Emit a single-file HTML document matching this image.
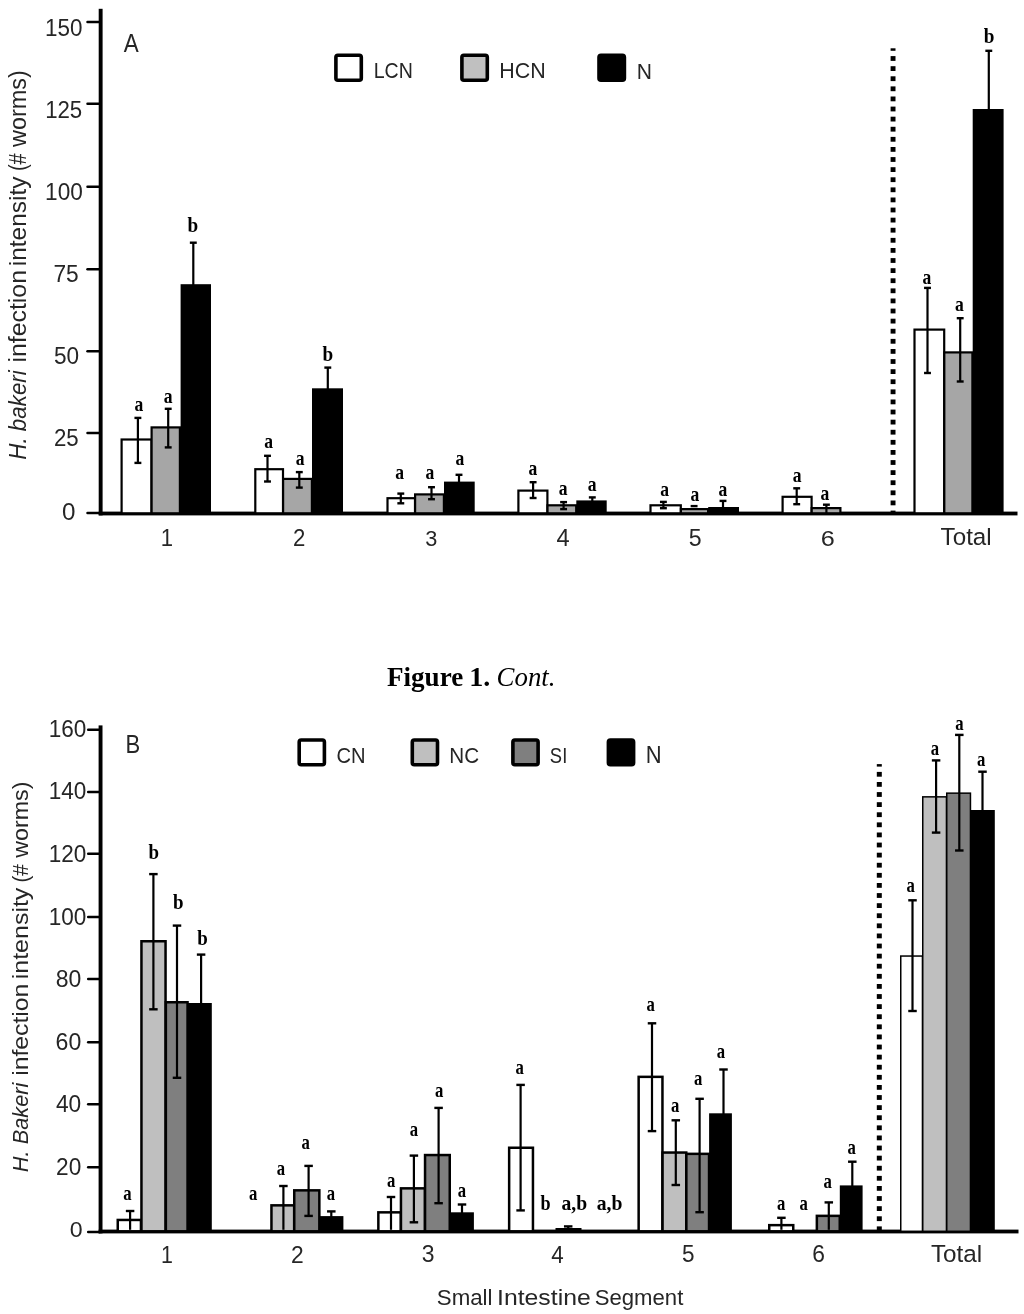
<!DOCTYPE html>
<html><head><meta charset="utf-8"><title>Figure 1 Cont.</title>
<style>html,body{margin:0;padding:0;background:#fff;}svg{display:block;filter:grayscale(100%);}</style></head>
<body><svg width="1024" height="1314" viewBox="0 0 1024 1314" shape-rendering="auto">
<rect width="1024" height="1314" fill="#fff"/>
<rect x="98.70" y="8.80" width="3.90" height="506.60" fill="#000"/>
<rect x="98.70" y="511.60" width="918.80" height="3.80" fill="#000"/>
<line x1="87.5" y1="22.00" x2="100" y2="22.00" stroke="#000" stroke-width="2.5" stroke-linecap="round"/>
<line x1="87.5" y1="103.80" x2="100" y2="103.80" stroke="#000" stroke-width="2.5" stroke-linecap="round"/>
<line x1="87.5" y1="186.80" x2="100" y2="186.80" stroke="#000" stroke-width="2.5" stroke-linecap="round"/>
<line x1="87.5" y1="269.20" x2="100" y2="269.20" stroke="#000" stroke-width="2.5" stroke-linecap="round"/>
<line x1="87.5" y1="351.20" x2="100" y2="351.20" stroke="#000" stroke-width="2.5" stroke-linecap="round"/>
<line x1="87.5" y1="433.00" x2="100" y2="433.00" stroke="#000" stroke-width="2.5" stroke-linecap="round"/>
<line x1="87.5" y1="513.00" x2="100" y2="513.00" stroke="#000" stroke-width="2.5" stroke-linecap="round"/>
<rect x="335.90" y="55.30" width="25.40" height="25.00" rx="2" fill="#fff" stroke="#000" stroke-width="3.6"/>
<rect x="461.90" y="55.30" width="25.40" height="25.00" rx="2" fill="#c0c0c0" stroke="#000" stroke-width="3.6"/>
<rect x="599.00" y="55.30" width="25.40" height="25.00" rx="2" fill="#000" stroke="#000" stroke-width="3.6"/>
<rect x="121.60" y="439.50" width="29.90" height="73.80" fill="#fff" stroke="#000" stroke-width="2.2"/>
<rect x="151.60" y="427.40" width="28.30" height="85.90" fill="#a6a6a6" stroke="#000" stroke-width="2.2"/>
<rect x="180.60" y="284.20" width="30.40" height="229.10" fill="#000"/>
<rect x="255.30" y="469.20" width="27.70" height="44.10" fill="#fff" stroke="#000" stroke-width="2.2"/>
<rect x="283.10" y="478.90" width="28.80" height="34.40" fill="#a6a6a6" stroke="#000" stroke-width="2.2"/>
<rect x="312.00" y="388.30" width="31.00" height="125.00" fill="#000"/>
<rect x="387.50" y="498.20" width="27.50" height="15.10" fill="#fff" stroke="#000" stroke-width="2.2"/>
<rect x="415.10" y="494.40" width="28.80" height="18.90" fill="#a6a6a6" stroke="#000" stroke-width="2.2"/>
<rect x="444.00" y="481.60" width="30.70" height="31.70" fill="#000"/>
<rect x="518.40" y="490.60" width="29.00" height="22.70" fill="#fff" stroke="#000" stroke-width="2.2"/>
<rect x="547.50" y="505.30" width="28.70" height="8.00" fill="#a6a6a6" stroke="#000" stroke-width="2.2"/>
<rect x="576.30" y="500.40" width="30.40" height="12.90" fill="#000"/>
<rect x="650.50" y="505.30" width="30.30" height="8.00" fill="#fff" stroke="#000" stroke-width="2.2"/>
<rect x="680.90" y="509.10" width="27.20" height="4.20" fill="#a6a6a6" stroke="#000" stroke-width="2.2"/>
<rect x="708.20" y="507.00" width="30.80" height="6.30" fill="#000"/>
<rect x="782.60" y="496.80" width="29.00" height="16.50" fill="#fff" stroke="#000" stroke-width="2.2"/>
<rect x="811.70" y="508.10" width="28.70" height="5.20" fill="#a6a6a6" stroke="#000" stroke-width="2.2"/>
<rect x="914.50" y="329.60" width="29.70" height="183.70" fill="#fff" stroke="#000" stroke-width="2.2"/>
<rect x="944.30" y="352.40" width="28.10" height="160.90" fill="#a6a6a6" stroke="#000" stroke-width="2.2"/>
<rect x="972.70" y="109.00" width="30.90" height="404.30" fill="#000"/>
<line x1="137.90" y1="417.90" x2="137.90" y2="462.90" stroke="#000" stroke-width="2.2"/>
<line x1="134.45" y1="417.90" x2="141.35" y2="417.90" stroke="#000" stroke-width="2.4"/>
<line x1="134.45" y1="462.90" x2="141.35" y2="462.90" stroke="#000" stroke-width="2.4"/>
<line x1="168.20" y1="408.80" x2="168.20" y2="447.40" stroke="#000" stroke-width="2.2"/>
<line x1="164.75" y1="408.80" x2="171.65" y2="408.80" stroke="#000" stroke-width="2.4"/>
<line x1="164.75" y1="447.40" x2="171.65" y2="447.40" stroke="#000" stroke-width="2.4"/>
<line x1="193.30" y1="242.70" x2="193.30" y2="513.30" stroke="#000" stroke-width="2.2"/>
<line x1="189.85" y1="242.70" x2="196.75" y2="242.70" stroke="#000" stroke-width="2.4"/>
<line x1="267.50" y1="455.80" x2="267.50" y2="481.50" stroke="#000" stroke-width="2.2"/>
<line x1="264.05" y1="455.80" x2="270.95" y2="455.80" stroke="#000" stroke-width="2.4"/>
<line x1="264.05" y1="481.50" x2="270.95" y2="481.50" stroke="#000" stroke-width="2.4"/>
<line x1="299.30" y1="472.10" x2="299.30" y2="487.60" stroke="#000" stroke-width="2.2"/>
<line x1="295.85" y1="472.10" x2="302.75" y2="472.10" stroke="#000" stroke-width="2.4"/>
<line x1="295.85" y1="487.60" x2="302.75" y2="487.60" stroke="#000" stroke-width="2.4"/>
<line x1="327.80" y1="367.60" x2="327.80" y2="513.30" stroke="#000" stroke-width="2.2"/>
<line x1="324.35" y1="367.60" x2="331.25" y2="367.60" stroke="#000" stroke-width="2.4"/>
<line x1="400.80" y1="493.60" x2="400.80" y2="503.30" stroke="#000" stroke-width="2.2"/>
<line x1="397.35" y1="493.60" x2="404.25" y2="493.60" stroke="#000" stroke-width="2.4"/>
<line x1="397.35" y1="503.30" x2="404.25" y2="503.30" stroke="#000" stroke-width="2.4"/>
<line x1="431.50" y1="487.20" x2="431.50" y2="499.20" stroke="#000" stroke-width="2.2"/>
<line x1="428.05" y1="487.20" x2="434.95" y2="487.20" stroke="#000" stroke-width="2.4"/>
<line x1="428.05" y1="499.20" x2="434.95" y2="499.20" stroke="#000" stroke-width="2.4"/>
<line x1="459.00" y1="474.80" x2="459.00" y2="513.30" stroke="#000" stroke-width="2.2"/>
<line x1="455.55" y1="474.80" x2="462.45" y2="474.80" stroke="#000" stroke-width="2.4"/>
<line x1="533.10" y1="482.20" x2="533.10" y2="498.00" stroke="#000" stroke-width="2.2"/>
<line x1="529.65" y1="482.20" x2="536.55" y2="482.20" stroke="#000" stroke-width="2.4"/>
<line x1="529.65" y1="498.00" x2="536.55" y2="498.00" stroke="#000" stroke-width="2.4"/>
<line x1="563.60" y1="502.10" x2="563.60" y2="509.10" stroke="#000" stroke-width="2.2"/>
<line x1="560.15" y1="502.10" x2="567.05" y2="502.10" stroke="#000" stroke-width="2.4"/>
<line x1="560.15" y1="509.10" x2="567.05" y2="509.10" stroke="#000" stroke-width="2.4"/>
<line x1="592.30" y1="497.40" x2="592.30" y2="513.30" stroke="#000" stroke-width="2.2"/>
<line x1="588.85" y1="497.40" x2="595.75" y2="497.40" stroke="#000" stroke-width="2.4"/>
<line x1="663.40" y1="501.90" x2="663.40" y2="508.20" stroke="#000" stroke-width="2.2"/>
<line x1="659.95" y1="501.90" x2="666.85" y2="501.90" stroke="#000" stroke-width="2.4"/>
<line x1="659.95" y1="508.20" x2="666.85" y2="508.20" stroke="#000" stroke-width="2.4"/>
<line x1="690.65" y1="506.10" x2="697.55" y2="506.10" stroke="#000" stroke-width="2.4"/>
<line x1="723.00" y1="500.90" x2="723.00" y2="513.30" stroke="#000" stroke-width="2.2"/>
<line x1="719.55" y1="500.90" x2="726.45" y2="500.90" stroke="#000" stroke-width="2.4"/>
<line x1="796.70" y1="488.30" x2="796.70" y2="504.20" stroke="#000" stroke-width="2.2"/>
<line x1="793.25" y1="488.30" x2="800.15" y2="488.30" stroke="#000" stroke-width="2.4"/>
<line x1="793.25" y1="504.20" x2="800.15" y2="504.20" stroke="#000" stroke-width="2.4"/>
<line x1="826.40" y1="504.70" x2="826.40" y2="513.30" stroke="#000" stroke-width="2.2"/>
<line x1="822.95" y1="504.70" x2="829.85" y2="504.70" stroke="#000" stroke-width="2.4"/>
<line x1="927.50" y1="287.90" x2="927.50" y2="373.00" stroke="#000" stroke-width="2.2"/>
<line x1="924.05" y1="287.90" x2="930.95" y2="287.90" stroke="#000" stroke-width="2.4"/>
<line x1="924.05" y1="373.00" x2="930.95" y2="373.00" stroke="#000" stroke-width="2.4"/>
<line x1="960.20" y1="318.20" x2="960.20" y2="381.50" stroke="#000" stroke-width="2.2"/>
<line x1="956.75" y1="318.20" x2="963.65" y2="318.20" stroke="#000" stroke-width="2.4"/>
<line x1="956.75" y1="381.50" x2="963.65" y2="381.50" stroke="#000" stroke-width="2.4"/>
<line x1="988.80" y1="50.80" x2="988.80" y2="513.30" stroke="#000" stroke-width="2.2"/>
<line x1="985.35" y1="50.80" x2="992.25" y2="50.80" stroke="#000" stroke-width="2.4"/>
<rect x="890.60" y="48.30" width="4.90" height="2.50" fill="#000"/>
<rect x="890.60" y="56.10" width="4.90" height="4.80" fill="#000"/>
<rect x="890.60" y="66.20" width="4.90" height="4.80" fill="#000"/>
<rect x="890.60" y="76.30" width="4.90" height="4.80" fill="#000"/>
<rect x="890.60" y="86.40" width="4.90" height="4.80" fill="#000"/>
<rect x="890.60" y="96.50" width="4.90" height="4.80" fill="#000"/>
<rect x="890.60" y="106.60" width="4.90" height="4.80" fill="#000"/>
<rect x="890.60" y="116.70" width="4.90" height="4.80" fill="#000"/>
<rect x="890.60" y="126.80" width="4.90" height="4.80" fill="#000"/>
<rect x="890.60" y="136.90" width="4.90" height="4.80" fill="#000"/>
<rect x="890.60" y="147.00" width="4.90" height="4.80" fill="#000"/>
<rect x="890.60" y="157.10" width="4.90" height="4.80" fill="#000"/>
<rect x="890.60" y="167.20" width="4.90" height="4.80" fill="#000"/>
<rect x="890.60" y="177.30" width="4.90" height="4.80" fill="#000"/>
<rect x="890.60" y="187.40" width="4.90" height="4.80" fill="#000"/>
<rect x="890.60" y="197.50" width="4.90" height="4.80" fill="#000"/>
<rect x="890.60" y="207.60" width="4.90" height="4.80" fill="#000"/>
<rect x="890.60" y="217.70" width="4.90" height="4.80" fill="#000"/>
<rect x="890.60" y="227.80" width="4.90" height="4.80" fill="#000"/>
<rect x="890.60" y="237.90" width="4.90" height="4.80" fill="#000"/>
<rect x="890.60" y="248.00" width="4.90" height="4.80" fill="#000"/>
<rect x="890.60" y="258.10" width="4.90" height="4.80" fill="#000"/>
<rect x="890.60" y="268.20" width="4.90" height="4.80" fill="#000"/>
<rect x="890.60" y="278.30" width="4.90" height="4.80" fill="#000"/>
<rect x="890.60" y="288.40" width="4.90" height="4.80" fill="#000"/>
<rect x="890.60" y="298.50" width="4.90" height="4.80" fill="#000"/>
<rect x="890.60" y="308.60" width="4.90" height="4.80" fill="#000"/>
<rect x="890.60" y="318.70" width="4.90" height="4.80" fill="#000"/>
<rect x="890.60" y="328.80" width="4.90" height="4.80" fill="#000"/>
<rect x="890.60" y="338.90" width="4.90" height="4.80" fill="#000"/>
<rect x="890.60" y="349.00" width="4.90" height="4.80" fill="#000"/>
<rect x="890.60" y="359.10" width="4.90" height="4.80" fill="#000"/>
<rect x="890.60" y="369.20" width="4.90" height="4.80" fill="#000"/>
<rect x="890.60" y="379.30" width="4.90" height="4.80" fill="#000"/>
<rect x="890.60" y="389.40" width="4.90" height="4.80" fill="#000"/>
<rect x="890.60" y="399.50" width="4.90" height="4.80" fill="#000"/>
<rect x="890.60" y="409.60" width="4.90" height="4.80" fill="#000"/>
<rect x="890.60" y="419.70" width="4.90" height="4.80" fill="#000"/>
<rect x="890.60" y="429.80" width="4.90" height="4.80" fill="#000"/>
<rect x="890.60" y="439.90" width="4.90" height="4.80" fill="#000"/>
<rect x="890.60" y="450.00" width="4.90" height="4.80" fill="#000"/>
<rect x="890.60" y="460.10" width="4.90" height="4.80" fill="#000"/>
<rect x="890.60" y="470.20" width="4.90" height="4.80" fill="#000"/>
<rect x="890.60" y="480.30" width="4.90" height="4.80" fill="#000"/>
<rect x="890.60" y="490.40" width="4.90" height="4.80" fill="#000"/>
<rect x="890.60" y="500.50" width="4.90" height="4.80" fill="#000"/>
<rect x="890.60" y="510.60" width="4.90" height="1.90" fill="#000"/>
<rect x="98.60" y="725.40" width="3.90" height="508.00" fill="#000"/>
<rect x="98.60" y="1229.60" width="919.90" height="3.80" fill="#000"/>
<line x1="88.2" y1="729.80" x2="100" y2="729.80" stroke="#000" stroke-width="2.5" stroke-linecap="round"/>
<line x1="88.2" y1="792.10" x2="100" y2="792.10" stroke="#000" stroke-width="2.5" stroke-linecap="round"/>
<line x1="88.2" y1="853.70" x2="100" y2="853.70" stroke="#000" stroke-width="2.5" stroke-linecap="round"/>
<line x1="88.2" y1="917.00" x2="100" y2="917.00" stroke="#000" stroke-width="2.5" stroke-linecap="round"/>
<line x1="88.2" y1="979.00" x2="100" y2="979.00" stroke="#000" stroke-width="2.5" stroke-linecap="round"/>
<line x1="88.2" y1="1042.30" x2="100" y2="1042.30" stroke="#000" stroke-width="2.5" stroke-linecap="round"/>
<line x1="88.2" y1="1104.20" x2="100" y2="1104.20" stroke="#000" stroke-width="2.5" stroke-linecap="round"/>
<line x1="88.2" y1="1167.30" x2="100" y2="1167.30" stroke="#000" stroke-width="2.5" stroke-linecap="round"/>
<line x1="88.2" y1="1231.90" x2="100" y2="1231.90" stroke="#000" stroke-width="2.5" stroke-linecap="round"/>
<rect x="299.20" y="740.00" width="25.20" height="24.70" rx="2" fill="#fff" stroke="#000" stroke-width="3.6"/>
<rect x="412.30" y="740.00" width="25.20" height="24.70" rx="2" fill="#bfbfbf" stroke="#000" stroke-width="3.6"/>
<rect x="512.90" y="740.00" width="25.20" height="24.70" rx="2" fill="#7f7f7f" stroke="#000" stroke-width="3.6"/>
<rect x="608.40" y="740.00" width="25.20" height="24.70" rx="2" fill="#000" stroke="#000" stroke-width="3.6"/>
<rect x="117.75" y="1219.95" width="23.20" height="11.35" fill="#fff" stroke="#000" stroke-width="2.5"/>
<rect x="141.45" y="941.25" width="24.10" height="290.05" fill="#bfbfbf" stroke="#000" stroke-width="2.5"/>
<rect x="165.85" y="1002.25" width="21.70" height="229.05" fill="#7f7f7f" stroke="#000" stroke-width="2.5"/>
<rect x="187.50" y="1003.00" width="24.30" height="228.30" fill="#000"/>
<rect x="271.45" y="1205.35" width="22.70" height="25.95" fill="#bfbfbf" stroke="#000" stroke-width="2.5"/>
<rect x="294.25" y="1190.35" width="25.10" height="40.95" fill="#7f7f7f" stroke="#000" stroke-width="2.5"/>
<rect x="319.40" y="1216.10" width="24.00" height="15.20" fill="#000"/>
<rect x="378.35" y="1212.35" width="22.50" height="18.95" fill="#fff" stroke="#000" stroke-width="2.5"/>
<rect x="400.95" y="1188.35" width="24.00" height="42.95" fill="#bfbfbf" stroke="#000" stroke-width="2.5"/>
<rect x="425.05" y="1155.05" width="24.70" height="76.25" fill="#7f7f7f" stroke="#000" stroke-width="2.5"/>
<rect x="449.90" y="1212.30" width="24.00" height="19.00" fill="#000"/>
<rect x="509.15" y="1147.75" width="23.80" height="83.55" fill="#fff" stroke="#000" stroke-width="2.5"/>
<rect x="556.75" y="1229.25" width="23.50" height="2.05" fill="#7f7f7f" stroke="#000" stroke-width="2.5"/>
<rect x="638.65" y="1076.85" width="23.80" height="154.45" fill="#fff" stroke="#000" stroke-width="2.5"/>
<rect x="662.55" y="1152.55" width="23.70" height="78.75" fill="#bfbfbf" stroke="#000" stroke-width="2.5"/>
<rect x="686.35" y="1153.85" width="22.70" height="77.45" fill="#7f7f7f" stroke="#000" stroke-width="2.5"/>
<rect x="709.10" y="1113.30" width="22.80" height="118.00" fill="#000"/>
<rect x="769.25" y="1225.15" width="24.00" height="6.15" fill="#fff" stroke="#000" stroke-width="2.5"/>
<rect x="816.85" y="1215.85" width="22.90" height="15.45" fill="#7f7f7f" stroke="#000" stroke-width="2.5"/>
<rect x="839.80" y="1185.40" width="22.80" height="45.90" fill="#000"/>
<rect x="900.75" y="956.05" width="21.70" height="275.25" fill="#fff" stroke="#000" stroke-width="1.5"/>
<rect x="922.75" y="796.85" width="23.70" height="434.45" fill="#bfbfbf" stroke="#000" stroke-width="1.5"/>
<rect x="946.75" y="793.15" width="23.70" height="438.15" fill="#7f7f7f" stroke="#000" stroke-width="1.5"/>
<rect x="970.50" y="810.00" width="24.30" height="421.30" fill="#000"/>
<line x1="130.10" y1="1211.00" x2="130.10" y2="1229.80" stroke="#000" stroke-width="2.2"/>
<line x1="125.85" y1="1211.00" x2="134.35" y2="1211.00" stroke="#000" stroke-width="2.4"/>
<line x1="153.40" y1="874.10" x2="153.40" y2="1009.30" stroke="#000" stroke-width="2.2"/>
<line x1="149.15" y1="874.10" x2="157.65" y2="874.10" stroke="#000" stroke-width="2.4"/>
<line x1="149.15" y1="1009.30" x2="157.65" y2="1009.30" stroke="#000" stroke-width="2.4"/>
<line x1="177.00" y1="925.60" x2="177.00" y2="1077.80" stroke="#000" stroke-width="2.2"/>
<line x1="172.75" y1="925.60" x2="181.25" y2="925.60" stroke="#000" stroke-width="2.4"/>
<line x1="172.75" y1="1077.80" x2="181.25" y2="1077.80" stroke="#000" stroke-width="2.4"/>
<line x1="201.10" y1="954.60" x2="201.10" y2="1229.80" stroke="#000" stroke-width="2.2"/>
<line x1="196.85" y1="954.60" x2="205.35" y2="954.60" stroke="#000" stroke-width="2.4"/>
<line x1="283.40" y1="1186.00" x2="283.40" y2="1229.80" stroke="#000" stroke-width="2.2"/>
<line x1="279.15" y1="1186.00" x2="287.65" y2="1186.00" stroke="#000" stroke-width="2.4"/>
<line x1="308.60" y1="1165.90" x2="308.60" y2="1215.90" stroke="#000" stroke-width="2.2"/>
<line x1="304.35" y1="1165.90" x2="312.85" y2="1165.90" stroke="#000" stroke-width="2.4"/>
<line x1="304.35" y1="1215.90" x2="312.85" y2="1215.90" stroke="#000" stroke-width="2.4"/>
<line x1="331.30" y1="1211.40" x2="331.30" y2="1229.80" stroke="#000" stroke-width="2.2"/>
<line x1="327.05" y1="1211.40" x2="335.55" y2="1211.40" stroke="#000" stroke-width="2.4"/>
<line x1="391.00" y1="1197.00" x2="391.00" y2="1229.80" stroke="#000" stroke-width="2.2"/>
<line x1="386.75" y1="1197.00" x2="395.25" y2="1197.00" stroke="#000" stroke-width="2.4"/>
<line x1="413.90" y1="1155.60" x2="413.90" y2="1222.30" stroke="#000" stroke-width="2.2"/>
<line x1="409.65" y1="1155.60" x2="418.15" y2="1155.60" stroke="#000" stroke-width="2.4"/>
<line x1="409.65" y1="1222.30" x2="418.15" y2="1222.30" stroke="#000" stroke-width="2.4"/>
<line x1="438.60" y1="1107.90" x2="438.60" y2="1203.20" stroke="#000" stroke-width="2.2"/>
<line x1="434.35" y1="1107.90" x2="442.85" y2="1107.90" stroke="#000" stroke-width="2.4"/>
<line x1="434.35" y1="1203.20" x2="442.85" y2="1203.20" stroke="#000" stroke-width="2.4"/>
<line x1="462.00" y1="1204.50" x2="462.00" y2="1229.80" stroke="#000" stroke-width="2.2"/>
<line x1="457.75" y1="1204.50" x2="466.25" y2="1204.50" stroke="#000" stroke-width="2.4"/>
<line x1="520.60" y1="1084.90" x2="520.60" y2="1210.40" stroke="#000" stroke-width="2.2"/>
<line x1="516.35" y1="1084.90" x2="524.85" y2="1084.90" stroke="#000" stroke-width="2.4"/>
<line x1="516.35" y1="1210.40" x2="524.85" y2="1210.40" stroke="#000" stroke-width="2.4"/>
<line x1="568.20" y1="1226.40" x2="568.20" y2="1229.80" stroke="#000" stroke-width="2.2"/>
<line x1="563.95" y1="1226.40" x2="572.45" y2="1226.40" stroke="#000" stroke-width="2.4"/>
<line x1="652.00" y1="1023.30" x2="652.00" y2="1131.10" stroke="#000" stroke-width="2.2"/>
<line x1="647.75" y1="1023.30" x2="656.25" y2="1023.30" stroke="#000" stroke-width="2.4"/>
<line x1="647.75" y1="1131.10" x2="656.25" y2="1131.10" stroke="#000" stroke-width="2.4"/>
<line x1="675.80" y1="1120.30" x2="675.80" y2="1185.00" stroke="#000" stroke-width="2.2"/>
<line x1="671.55" y1="1120.30" x2="680.05" y2="1120.30" stroke="#000" stroke-width="2.4"/>
<line x1="671.55" y1="1185.00" x2="680.05" y2="1185.00" stroke="#000" stroke-width="2.4"/>
<line x1="699.60" y1="1098.80" x2="699.60" y2="1212.20" stroke="#000" stroke-width="2.2"/>
<line x1="695.35" y1="1098.80" x2="703.85" y2="1098.80" stroke="#000" stroke-width="2.4"/>
<line x1="695.35" y1="1212.20" x2="703.85" y2="1212.20" stroke="#000" stroke-width="2.4"/>
<line x1="723.50" y1="1069.50" x2="723.50" y2="1229.80" stroke="#000" stroke-width="2.2"/>
<line x1="719.25" y1="1069.50" x2="727.75" y2="1069.50" stroke="#000" stroke-width="2.4"/>
<line x1="781.40" y1="1217.80" x2="781.40" y2="1229.80" stroke="#000" stroke-width="2.2"/>
<line x1="777.15" y1="1217.80" x2="785.65" y2="1217.80" stroke="#000" stroke-width="2.4"/>
<line x1="828.80" y1="1202.40" x2="828.80" y2="1229.80" stroke="#000" stroke-width="2.2"/>
<line x1="824.55" y1="1202.40" x2="833.05" y2="1202.40" stroke="#000" stroke-width="2.4"/>
<line x1="852.30" y1="1161.70" x2="852.30" y2="1229.80" stroke="#000" stroke-width="2.2"/>
<line x1="848.05" y1="1161.70" x2="856.55" y2="1161.70" stroke="#000" stroke-width="2.4"/>
<line x1="912.50" y1="900.30" x2="912.50" y2="1011.00" stroke="#000" stroke-width="2.2"/>
<line x1="908.25" y1="900.30" x2="916.75" y2="900.30" stroke="#000" stroke-width="2.4"/>
<line x1="908.25" y1="1011.00" x2="916.75" y2="1011.00" stroke="#000" stroke-width="2.4"/>
<line x1="936.10" y1="760.40" x2="936.10" y2="832.60" stroke="#000" stroke-width="2.2"/>
<line x1="931.85" y1="760.40" x2="940.35" y2="760.40" stroke="#000" stroke-width="2.4"/>
<line x1="931.85" y1="832.60" x2="940.35" y2="832.60" stroke="#000" stroke-width="2.4"/>
<line x1="959.30" y1="734.90" x2="959.30" y2="850.50" stroke="#000" stroke-width="2.2"/>
<line x1="955.05" y1="734.90" x2="963.55" y2="734.90" stroke="#000" stroke-width="2.4"/>
<line x1="955.05" y1="850.50" x2="963.55" y2="850.50" stroke="#000" stroke-width="2.4"/>
<line x1="982.50" y1="771.70" x2="982.50" y2="1229.80" stroke="#000" stroke-width="2.2"/>
<line x1="978.25" y1="771.70" x2="986.75" y2="771.70" stroke="#000" stroke-width="2.4"/>
<rect x="876.80" y="764.10" width="5.00" height="2.50" fill="#000"/>
<rect x="876.80" y="771.90" width="5.00" height="4.80" fill="#000"/>
<rect x="876.80" y="782.00" width="5.00" height="4.80" fill="#000"/>
<rect x="876.80" y="792.10" width="5.00" height="4.80" fill="#000"/>
<rect x="876.80" y="802.20" width="5.00" height="4.80" fill="#000"/>
<rect x="876.80" y="812.30" width="5.00" height="4.80" fill="#000"/>
<rect x="876.80" y="822.40" width="5.00" height="4.80" fill="#000"/>
<rect x="876.80" y="832.50" width="5.00" height="4.80" fill="#000"/>
<rect x="876.80" y="842.60" width="5.00" height="4.80" fill="#000"/>
<rect x="876.80" y="852.70" width="5.00" height="4.80" fill="#000"/>
<rect x="876.80" y="862.80" width="5.00" height="4.80" fill="#000"/>
<rect x="876.80" y="872.90" width="5.00" height="4.80" fill="#000"/>
<rect x="876.80" y="883.00" width="5.00" height="4.80" fill="#000"/>
<rect x="876.80" y="893.10" width="5.00" height="4.80" fill="#000"/>
<rect x="876.80" y="903.20" width="5.00" height="4.80" fill="#000"/>
<rect x="876.80" y="913.30" width="5.00" height="4.80" fill="#000"/>
<rect x="876.80" y="923.40" width="5.00" height="4.80" fill="#000"/>
<rect x="876.80" y="933.50" width="5.00" height="4.80" fill="#000"/>
<rect x="876.80" y="943.60" width="5.00" height="4.80" fill="#000"/>
<rect x="876.80" y="953.70" width="5.00" height="4.80" fill="#000"/>
<rect x="876.80" y="963.80" width="5.00" height="4.80" fill="#000"/>
<rect x="876.80" y="973.90" width="5.00" height="4.80" fill="#000"/>
<rect x="876.80" y="984.00" width="5.00" height="4.80" fill="#000"/>
<rect x="876.80" y="994.10" width="5.00" height="4.80" fill="#000"/>
<rect x="876.80" y="1004.20" width="5.00" height="4.80" fill="#000"/>
<rect x="876.80" y="1014.30" width="5.00" height="4.80" fill="#000"/>
<rect x="876.80" y="1024.40" width="5.00" height="4.80" fill="#000"/>
<rect x="876.80" y="1034.50" width="5.00" height="4.80" fill="#000"/>
<rect x="876.80" y="1044.60" width="5.00" height="4.80" fill="#000"/>
<rect x="876.80" y="1054.70" width="5.00" height="4.80" fill="#000"/>
<rect x="876.80" y="1064.80" width="5.00" height="4.80" fill="#000"/>
<rect x="876.80" y="1074.90" width="5.00" height="4.80" fill="#000"/>
<rect x="876.80" y="1085.00" width="5.00" height="4.80" fill="#000"/>
<rect x="876.80" y="1095.10" width="5.00" height="4.80" fill="#000"/>
<rect x="876.80" y="1105.20" width="5.00" height="4.80" fill="#000"/>
<rect x="876.80" y="1115.30" width="5.00" height="4.80" fill="#000"/>
<rect x="876.80" y="1125.40" width="5.00" height="4.80" fill="#000"/>
<rect x="876.80" y="1135.50" width="5.00" height="4.80" fill="#000"/>
<rect x="876.80" y="1145.60" width="5.00" height="4.80" fill="#000"/>
<rect x="876.80" y="1155.70" width="5.00" height="4.80" fill="#000"/>
<rect x="876.80" y="1165.80" width="5.00" height="4.80" fill="#000"/>
<rect x="876.80" y="1175.90" width="5.00" height="4.80" fill="#000"/>
<rect x="876.80" y="1186.00" width="5.00" height="4.80" fill="#000"/>
<rect x="876.80" y="1196.10" width="5.00" height="4.80" fill="#000"/>
<rect x="876.80" y="1206.20" width="5.00" height="4.80" fill="#000"/>
<rect x="876.80" y="1216.30" width="5.00" height="4.80" fill="#000"/>
<rect x="876.80" y="1226.40" width="5.00" height="4.60" fill="#000"/>
<text transform="matrix(0.95994,0,0,1,45.117,35.666)" font-family="Liberation Sans" font-size="23.380" font-weight="normal" font-style="normal" fill="#262626" style="white-space:pre">150</text>
<text transform="matrix(0.94630,0,0,1,45.131,117.765)" font-family="Liberation Sans" font-size="23.521" font-weight="normal" font-style="normal" fill="#262626" style="white-space:pre">125</text>
<text transform="matrix(0.96240,0,0,1,45.102,199.765)" font-family="Liberation Sans" font-size="23.521" font-weight="normal" font-style="normal" fill="#262626" style="white-space:pre">100</text>
<text transform="matrix(0.97083,0,0,1,53.463,281.766)" font-family="Liberation Sans" font-size="23.429" font-weight="normal" font-style="normal" fill="#262626" style="white-space:pre">75</text>
<text transform="matrix(0.97879,0,0,1,53.996,363.769)" font-family="Liberation Sans" font-size="23.099" font-weight="normal" font-style="normal" fill="#262626" style="white-space:pre">50</text>
<text transform="matrix(0.96347,0,0,1,53.987,445.769)" font-family="Liberation Sans" font-size="23.099" font-weight="normal" font-style="normal" fill="#262626" style="white-space:pre">25</text>
<text transform="matrix(1.03551,0,0,1,61.932,520.466)" font-family="Liberation Sans" font-size="23.380" font-weight="normal" font-style="normal" fill="#262626" style="white-space:pre">0</text>
<text transform="matrix(0.87276,0,0,1,123.788,51.900)" font-family="Liberation Sans" font-size="25.693" font-weight="normal" font-style="normal" fill="#262626" style="white-space:pre">A</text>
<text transform="matrix(0.85749,0,0,1,373.735,78.372)" font-family="Liberation Sans" font-size="22.817" font-weight="normal" font-style="normal" fill="#262626" style="white-space:pre">LCN</text>
<text transform="matrix(0.94577,0,0,1,499.184,78.473)" font-family="Liberation Sans" font-size="22.676" font-weight="normal" font-style="normal" fill="#262626" style="white-space:pre">HCN</text>
<text transform="matrix(0.92021,0,0,1,636.714,78.600)" font-family="Liberation Sans" font-size="22.899" font-weight="normal" font-style="normal" fill="#262626" style="white-space:pre">N</text>
<text transform="matrix(0.82000,0,0,1,134.466,410.743)" font-family="Liberation Serif" font-size="21.474" font-weight="bold" font-style="normal" fill="#000" style="white-space:pre">a</text>
<text transform="matrix(0.82000,0,0,1,163.666,402.643)" font-family="Liberation Serif" font-size="21.474" font-weight="bold" font-style="normal" fill="#000" style="white-space:pre">a</text>
<text transform="matrix(0.89000,0,0,1,187.412,232.234)" font-family="Liberation Serif" font-size="21.571" font-weight="bold" font-style="normal" fill="#000" style="white-space:pre">b</text>
<text transform="matrix(0.82000,0,0,1,264.266,448.393)" font-family="Liberation Serif" font-size="21.474" font-weight="bold" font-style="normal" fill="#000" style="white-space:pre">a</text>
<text transform="matrix(0.82000,0,0,1,295.666,464.743)" font-family="Liberation Serif" font-size="21.474" font-weight="bold" font-style="normal" fill="#000" style="white-space:pre">a</text>
<text transform="matrix(0.89000,0,0,1,322.412,361.084)" font-family="Liberation Serif" font-size="21.571" font-weight="bold" font-style="normal" fill="#000" style="white-space:pre">b</text>
<text transform="matrix(0.82000,0,0,1,395.366,478.543)" font-family="Liberation Serif" font-size="21.474" font-weight="bold" font-style="normal" fill="#000" style="white-space:pre">a</text>
<text transform="matrix(0.82000,0,0,1,425.466,478.543)" font-family="Liberation Serif" font-size="21.474" font-weight="bold" font-style="normal" fill="#000" style="white-space:pre">a</text>
<text transform="matrix(0.82000,0,0,1,455.466,464.793)" font-family="Liberation Serif" font-size="21.474" font-weight="bold" font-style="normal" fill="#000" style="white-space:pre">a</text>
<text transform="matrix(0.82000,0,0,1,528.566,474.793)" font-family="Liberation Serif" font-size="21.474" font-weight="bold" font-style="normal" fill="#000" style="white-space:pre">a</text>
<text transform="matrix(0.82000,0,0,1,558.666,494.943)" font-family="Liberation Serif" font-size="21.474" font-weight="bold" font-style="normal" fill="#000" style="white-space:pre">a</text>
<text transform="matrix(0.82000,0,0,1,587.766,491.393)" font-family="Liberation Serif" font-size="21.474" font-weight="bold" font-style="normal" fill="#000" style="white-space:pre">a</text>
<text transform="matrix(0.82000,0,0,1,660.266,496.143)" font-family="Liberation Serif" font-size="21.474" font-weight="bold" font-style="normal" fill="#000" style="white-space:pre">a</text>
<text transform="matrix(0.82000,0,0,1,690.566,501.393)" font-family="Liberation Serif" font-size="21.474" font-weight="bold" font-style="normal" fill="#000" style="white-space:pre">a</text>
<text transform="matrix(0.82000,0,0,1,718.466,496.143)" font-family="Liberation Serif" font-size="21.474" font-weight="bold" font-style="normal" fill="#000" style="white-space:pre">a</text>
<text transform="matrix(0.82000,0,0,1,792.666,482.493)" font-family="Liberation Serif" font-size="21.474" font-weight="bold" font-style="normal" fill="#000" style="white-space:pre">a</text>
<text transform="matrix(0.82000,0,0,1,820.566,499.993)" font-family="Liberation Serif" font-size="21.474" font-weight="bold" font-style="normal" fill="#000" style="white-space:pre">a</text>
<text transform="matrix(0.82000,0,0,1,922.466,284.093)" font-family="Liberation Serif" font-size="21.474" font-weight="bold" font-style="normal" fill="#000" style="white-space:pre">a</text>
<text transform="matrix(0.82000,0,0,1,954.966,310.893)" font-family="Liberation Serif" font-size="21.474" font-weight="bold" font-style="normal" fill="#000" style="white-space:pre">a</text>
<text transform="matrix(0.89000,0,0,1,983.712,43.134)" font-family="Liberation Serif" font-size="21.571" font-weight="bold" font-style="normal" fill="#000" style="white-space:pre">b</text>
<text transform="matrix(0.93523,0,0,1,160.843,545.900)" font-family="Liberation Sans" font-size="23.623" font-weight="normal" font-style="normal" fill="#262626" style="white-space:pre">1</text>
<text transform="matrix(0.95328,0,0,1,292.990,545.900)" font-family="Liberation Sans" font-size="23.286" font-weight="normal" font-style="normal" fill="#262626" style="white-space:pre">2</text>
<text transform="matrix(0.94531,0,0,1,425.132,545.670)" font-family="Liberation Sans" font-size="22.958" font-weight="normal" font-style="normal" fill="#262626" style="white-space:pre">3</text>
<text transform="matrix(0.99902,0,0,1,556.410,545.900)" font-family="Liberation Sans" font-size="23.623" font-weight="normal" font-style="normal" fill="#262626" style="white-space:pre">4</text>
<text transform="matrix(0.99451,0,0,1,688.874,545.667)" font-family="Liberation Sans" font-size="23.286" font-weight="normal" font-style="normal" fill="#262626" style="white-space:pre">5</text>
<text transform="matrix(1.09843,0,0,1,820.839,545.670)" font-family="Liberation Sans" font-size="22.958" font-weight="normal" font-style="normal" fill="#262626" style="white-space:pre">6</text>
<text transform="matrix(1.04664,0,0,1,940.595,545.469)" font-family="Liberation Sans" font-size="23.129" font-weight="normal" font-style="normal" fill="#262626" style="white-space:pre">Total</text>
<text transform="matrix(0,-0.95906,1,0,25.800,459.771)" font-family="Liberation Sans" font-size="23.333" fill="#262626" style="white-space:pre"><tspan font-style="italic">H. bakeri</tspan></text>
<text transform="matrix(0,-1.06577,1,0,25.800,362.616)" font-family="Liberation Sans" font-size="23.333" fill="#262626" style="white-space:pre"><tspan font-style="normal">infection</tspan></text>
<text transform="matrix(0,-1.04881,1,0,25.800,266.291)" font-family="Liberation Sans" font-size="23.333" fill="#262626" style="white-space:pre"><tspan font-style="normal">intensity</tspan></text>
<text transform="matrix(0,-0.86234,1,0,25.800,171.107)" font-family="Liberation Sans" font-size="23.333" fill="#262626" style="white-space:pre"><tspan font-style="normal">(#</tspan></text>
<text transform="matrix(0,-1.00244,1,0,25.800,146.900)" font-family="Liberation Sans" font-size="23.333" fill="#262626" style="white-space:pre"><tspan font-style="normal">worms)</tspan></text>
<text transform="matrix(0.96467,0,0,1,386.994,685.800)" font-family="Liberation Serif" font-size="28.092" font-weight="bold" font-style="normal" fill="#000" style="white-space:pre">Figure</text>
<text transform="matrix(1.00243,0,0,1,469.147,685.800)" font-family="Liberation Serif" font-size="28.092" font-weight="bold" font-style="normal" fill="#000" style="white-space:pre">1.</text>
<text transform="matrix(0.94777,0,0,1,496.624,685.942)" font-family="Liberation Serif" font-size="28.308" font-weight="normal" font-style="italic" fill="#000" style="white-space:pre">Cont.</text>
<text transform="matrix(0.97722,0,0,1,48.707,737.469)" font-family="Liberation Sans" font-size="23.099" font-weight="normal" font-style="normal" fill="#262626" style="white-space:pre">160</text>
<text transform="matrix(0.97722,0,0,1,48.707,799.469)" font-family="Liberation Sans" font-size="23.099" font-weight="normal" font-style="normal" fill="#262626" style="white-space:pre">140</text>
<text transform="matrix(0.96544,0,0,1,48.707,861.666)" font-family="Liberation Sans" font-size="23.380" font-weight="normal" font-style="normal" fill="#262626" style="white-space:pre">120</text>
<text transform="matrix(0.96544,0,0,1,48.707,924.666)" font-family="Liberation Sans" font-size="23.380" font-weight="normal" font-style="normal" fill="#262626" style="white-space:pre">100</text>
<text transform="matrix(0.97243,0,0,1,55.665,986.663)" font-family="Liberation Sans" font-size="23.662" font-weight="normal" font-style="normal" fill="#262626" style="white-space:pre">80</text>
<text transform="matrix(0.98303,0,0,1,55.544,1049.765)" font-family="Liberation Sans" font-size="23.521" font-weight="normal" font-style="normal" fill="#262626" style="white-space:pre">60</text>
<text transform="matrix(0.96772,0,0,1,55.931,1111.765)" font-family="Liberation Sans" font-size="23.521" font-weight="normal" font-style="normal" fill="#262626" style="white-space:pre">40</text>
<text transform="matrix(0.97989,0,0,1,56.068,1174.769)" font-family="Liberation Sans" font-size="23.099" font-weight="normal" font-style="normal" fill="#262626" style="white-space:pre">20</text>
<text transform="matrix(1.02125,0,0,1,69.674,1236.773)" font-family="Liberation Sans" font-size="22.676" font-weight="normal" font-style="normal" fill="#262626" style="white-space:pre">0</text>
<text transform="matrix(0.85498,0,0,1,125.536,752.700)" font-family="Liberation Sans" font-size="25.797" font-weight="normal" font-style="normal" fill="#262626" style="white-space:pre">B</text>
<text transform="matrix(0.89425,0,0,1,336.492,762.675)" font-family="Liberation Sans" font-size="22.535" font-weight="normal" font-style="normal" fill="#262626" style="white-space:pre">CN</text>
<text transform="matrix(0.91764,0,0,1,449.246,762.675)" font-family="Liberation Sans" font-size="22.535" font-weight="normal" font-style="normal" fill="#262626" style="white-space:pre">NC</text>
<text transform="matrix(0.81628,0,0,1,549.872,762.675)" font-family="Liberation Sans" font-size="22.535" font-weight="normal" font-style="normal" fill="#262626" style="white-space:pre">SI</text>
<text transform="matrix(0.94721,0,0,1,645.643,762.900)" font-family="Liberation Sans" font-size="23.188" font-weight="normal" font-style="normal" fill="#262626" style="white-space:pre">N</text>
<text transform="matrix(0.82000,0,0,1,123.288,1199.748)" font-family="Liberation Serif" font-size="20.421" font-weight="bold" font-style="normal" fill="#000" style="white-space:pre">a</text>
<text transform="matrix(0.89000,0,0,1,148.380,858.937)" font-family="Liberation Serif" font-size="21.286" font-weight="bold" font-style="normal" fill="#000" style="white-space:pre">b</text>
<text transform="matrix(0.89000,0,0,1,172.980,909.487)" font-family="Liberation Serif" font-size="21.286" font-weight="bold" font-style="normal" fill="#000" style="white-space:pre">b</text>
<text transform="matrix(0.89000,0,0,1,197.180,944.937)" font-family="Liberation Serif" font-size="21.286" font-weight="bold" font-style="normal" fill="#000" style="white-space:pre">b</text>
<text transform="matrix(0.82000,0,0,1,248.888,1199.898)" font-family="Liberation Serif" font-size="20.421" font-weight="bold" font-style="normal" fill="#000" style="white-space:pre">a</text>
<text transform="matrix(0.82000,0,0,1,276.788,1174.898)" font-family="Liberation Serif" font-size="20.421" font-weight="bold" font-style="normal" fill="#000" style="white-space:pre">a</text>
<text transform="matrix(0.82000,0,0,1,301.588,1149.348)" font-family="Liberation Serif" font-size="20.421" font-weight="bold" font-style="normal" fill="#000" style="white-space:pre">a</text>
<text transform="matrix(0.82000,0,0,1,326.788,1199.898)" font-family="Liberation Serif" font-size="20.421" font-weight="bold" font-style="normal" fill="#000" style="white-space:pre">a</text>
<text transform="matrix(0.82000,0,0,1,386.988,1187.048)" font-family="Liberation Serif" font-size="20.421" font-weight="bold" font-style="normal" fill="#000" style="white-space:pre">a</text>
<text transform="matrix(0.82000,0,0,1,409.688,1136.498)" font-family="Liberation Serif" font-size="20.421" font-weight="bold" font-style="normal" fill="#000" style="white-space:pre">a</text>
<text transform="matrix(0.82000,0,0,1,435.088,1097.448)" font-family="Liberation Serif" font-size="20.421" font-weight="bold" font-style="normal" fill="#000" style="white-space:pre">a</text>
<text transform="matrix(0.82000,0,0,1,457.688,1196.948)" font-family="Liberation Serif" font-size="20.421" font-weight="bold" font-style="normal" fill="#000" style="white-space:pre">a</text>
<text transform="matrix(0.82000,0,0,1,515.488,1073.648)" font-family="Liberation Serif" font-size="20.421" font-weight="bold" font-style="normal" fill="#000" style="white-space:pre">a</text>
<text transform="matrix(0.82000,0,0,1,646.388,1011.298)" font-family="Liberation Serif" font-size="20.421" font-weight="bold" font-style="normal" fill="#000" style="white-space:pre">a</text>
<text transform="matrix(0.82000,0,0,1,671.088,1111.698)" font-family="Liberation Serif" font-size="20.421" font-weight="bold" font-style="normal" fill="#000" style="white-space:pre">a</text>
<text transform="matrix(0.82000,0,0,1,693.888,1085.098)" font-family="Liberation Serif" font-size="20.421" font-weight="bold" font-style="normal" fill="#000" style="white-space:pre">a</text>
<text transform="matrix(0.82000,0,0,1,716.788,1058.498)" font-family="Liberation Serif" font-size="20.421" font-weight="bold" font-style="normal" fill="#000" style="white-space:pre">a</text>
<text transform="matrix(0.82000,0,0,1,776.988,1210.198)" font-family="Liberation Serif" font-size="20.421" font-weight="bold" font-style="normal" fill="#000" style="white-space:pre">a</text>
<text transform="matrix(0.82000,0,0,1,799.488,1210.198)" font-family="Liberation Serif" font-size="20.421" font-weight="bold" font-style="normal" fill="#000" style="white-space:pre">a</text>
<text transform="matrix(0.82000,0,0,1,823.588,1188.498)" font-family="Liberation Serif" font-size="20.421" font-weight="bold" font-style="normal" fill="#000" style="white-space:pre">a</text>
<text transform="matrix(0.82000,0,0,1,847.488,1154.148)" font-family="Liberation Serif" font-size="20.421" font-weight="bold" font-style="normal" fill="#000" style="white-space:pre">a</text>
<text transform="matrix(0.82000,0,0,1,906.588,891.998)" font-family="Liberation Serif" font-size="20.421" font-weight="bold" font-style="normal" fill="#000" style="white-space:pre">a</text>
<text transform="matrix(0.82000,0,0,1,930.688,755.198)" font-family="Liberation Serif" font-size="20.421" font-weight="bold" font-style="normal" fill="#000" style="white-space:pre">a</text>
<text transform="matrix(0.82000,0,0,1,955.288,729.548)" font-family="Liberation Serif" font-size="20.421" font-weight="bold" font-style="normal" fill="#000" style="white-space:pre">a</text>
<text transform="matrix(0.82000,0,0,1,977.088,766.448)" font-family="Liberation Serif" font-size="20.421" font-weight="bold" font-style="normal" fill="#000" style="white-space:pre">a</text>
<text transform="matrix(0.85503,0,0,1,540.427,1209.887)" font-family="Liberation Serif" font-size="21.286" font-weight="bold" font-style="normal" fill="#000" style="white-space:pre">b</text>
<text transform="matrix(0.92438,0,0,1,561.410,1209.887)" font-family="Liberation Serif" font-size="21.286" font-weight="bold" font-style="normal" fill="#000" style="white-space:pre">a,b</text>
<text transform="matrix(0.92438,0,0,1,596.710,1209.887)" font-family="Liberation Serif" font-size="21.286" font-weight="bold" font-style="normal" fill="#000" style="white-space:pre">a,b</text>
<text transform="matrix(0.90017,0,0,1,160.895,1262.700)" font-family="Liberation Sans" font-size="23.768" font-weight="normal" font-style="normal" fill="#262626" style="white-space:pre">1</text>
<text transform="matrix(0.97561,0,0,1,291.057,1262.700)" font-family="Liberation Sans" font-size="23.429" font-weight="normal" font-style="normal" fill="#262626" style="white-space:pre">2</text>
<text transform="matrix(0.99481,0,0,1,421.681,1262.469)" font-family="Liberation Sans" font-size="23.099" font-weight="normal" font-style="normal" fill="#262626" style="white-space:pre">3</text>
<text transform="matrix(0.94244,0,0,1,551.340,1262.700)" font-family="Liberation Sans" font-size="23.768" font-weight="normal" font-style="normal" fill="#262626" style="white-space:pre">4</text>
<text transform="matrix(0.96149,0,0,1,681.899,1262.466)" font-family="Liberation Sans" font-size="23.429" font-weight="normal" font-style="normal" fill="#262626" style="white-space:pre">5</text>
<text transform="matrix(0.98820,0,0,1,812.159,1262.469)" font-family="Liberation Sans" font-size="23.099" font-weight="normal" font-style="normal" fill="#262626" style="white-space:pre">6</text>
<text transform="matrix(1.04878,0,0,1,930.894,1262.269)" font-family="Liberation Sans" font-size="23.129" font-weight="normal" font-style="normal" fill="#262626" style="white-space:pre">Total</text>
<text transform="matrix(0.98640,0,0,1,436.796,1305.200)" font-family="Liberation Sans" font-size="22.609" font-weight="normal" font-style="normal" fill="#262626" style="white-space:pre">Small</text>
<text transform="matrix(1.09576,0,0,1,497.070,1305.200)" font-family="Liberation Sans" font-size="22.609" font-weight="normal" font-style="normal" fill="#262626" style="white-space:pre">Intestine</text>
<text transform="matrix(0.97980,0,0,1,594.703,1305.200)" font-family="Liberation Sans" font-size="22.609" font-weight="normal" font-style="normal" fill="#262626" style="white-space:pre">Segment</text>
<text transform="matrix(0,-0.95108,1,0,28.000,1172.153)" font-family="Liberation Sans" font-size="22.899" fill="#262626" style="white-space:pre"><tspan font-style="italic">H. Bakeri</tspan></text>
<text transform="matrix(0,-1.07993,1,0,28.000,1075.807)" font-family="Liberation Sans" font-size="22.899" fill="#262626" style="white-space:pre"><tspan font-style="normal">infection</tspan></text>
<text transform="matrix(0,-1.09177,1,0,28.000,979.325)" font-family="Liberation Sans" font-size="22.899" fill="#262626" style="white-space:pre"><tspan font-style="normal">intensity</tspan></text>
<text transform="matrix(0,-0.90518,1,0,28.000,882.544)" font-family="Liberation Sans" font-size="22.899" fill="#262626" style="white-space:pre"><tspan font-style="normal">(#</tspan></text>
<text transform="matrix(0,-1.01740,1,0,28.000,857.800)" font-family="Liberation Sans" font-size="22.899" fill="#262626" style="white-space:pre"><tspan font-style="normal">worms)</tspan></text>
</svg></body></html>
